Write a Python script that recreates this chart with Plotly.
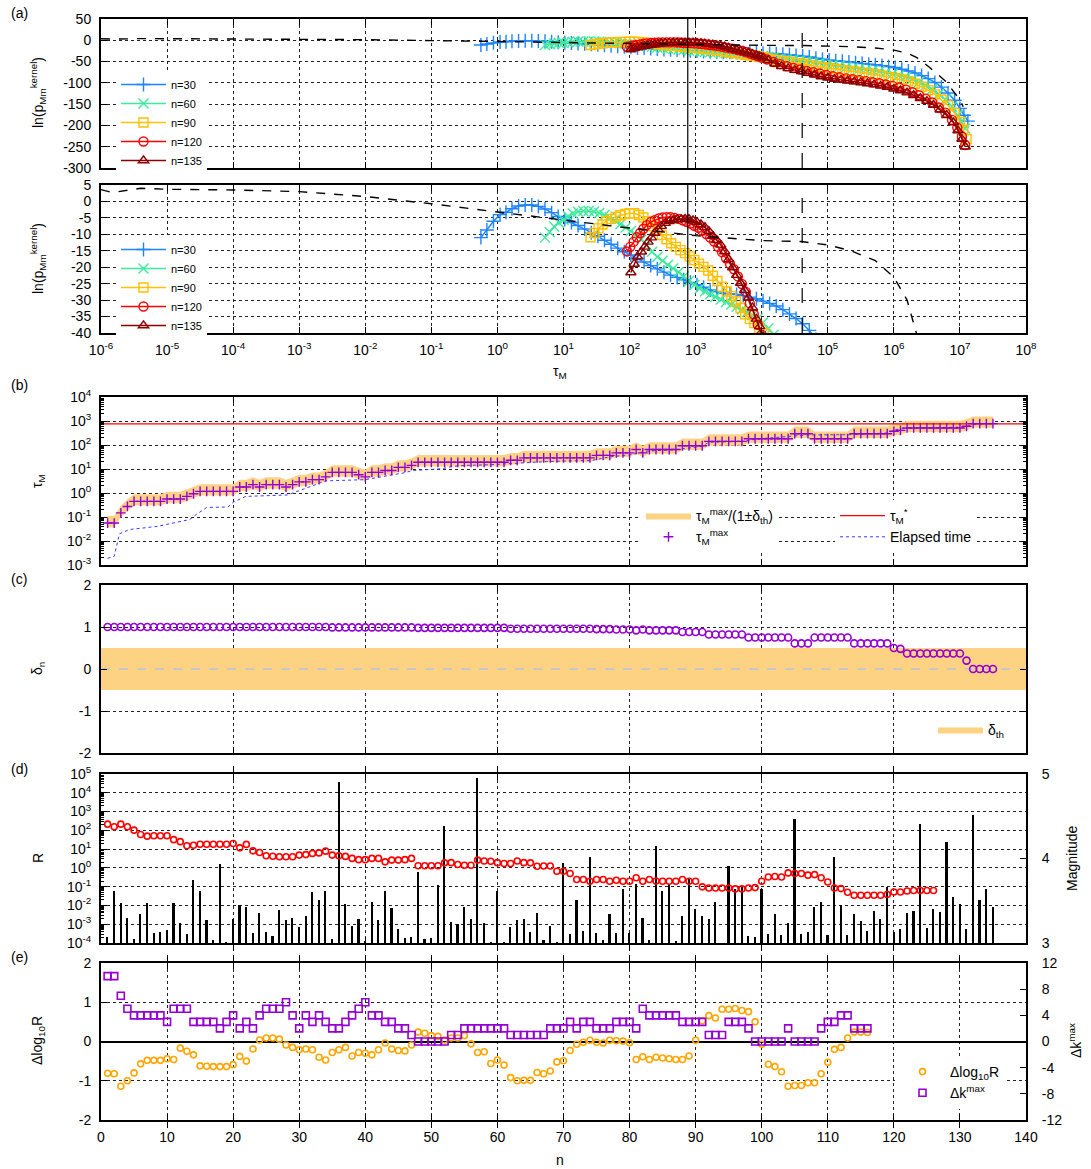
import numpy as np
import plotly.graph_objects as go

W, H = 1091, 1169
FONT = "Liberation Sans, Arial, Helvetica, sans-serif"

# ====================== (a) ln(p_Mm^kernel) vs tau_M ======================
# (log10 tau_M, ln p) pairs
curve_n30 = [(-0.25, -11.0), (-0.16, -8.7), (-0.06, -6.0), (0.04, -4.0), (0.13, -3.3), (0.22, -2.2),
             (0.32, -1.4), (0.42, -1.1), (0.52, -1.1), (0.62, -1.5), (0.72, -2.3), (0.82, -3.4),
             (0.92, -4.6), (1.02, -5.5), (1.12, -6.4), (1.22, -7.3), (1.32, -8.4), (1.42, -9.5),
             (1.52, -10.6), (1.62, -11.8), (1.72, -13.0), (1.82, -14.2), (1.92, -15.3), (2.02, -16.3),
             (2.12, -17.3), (2.22, -18.4), (2.32, -19.5), (2.42, -20.5), (2.52, -21.5), (2.62, -22.4),
             (2.72, -23.1), (2.82, -23.8), (2.92, -24.6), (3.02, -25.3), (3.12, -26.1), (3.22, -26.9),
             (3.32, -27.5), (3.42, -27.9), (3.52, -28.1), (3.62, -28.3), (3.72, -28.6), (3.82, -29.1),
             (3.92, -29.6), (4.02, -30.3), (4.12, -31.0), (4.22, -31.8), (4.32, -32.9), (4.42, -34.2),
             (4.52, -35.6), (4.62, -37.2), (4.72, -39.2), (4.82, -42), (4.92, -44.5), (5.02, -46.5),
             (5.12, -48), (5.22, -49.5), (5.32, -51), (5.42, -52.5), (5.52, -54.5), (5.62, -56),
             (5.72, -57.5), (5.82, -59.5), (5.92, -61.5), (6.02, -64), (6.12, -68), (6.22, -72),
             (6.32, -77), (6.42, -83), (6.52, -90), (6.62, -99), (6.72, -110), (6.82, -124),
             (6.92, -141), (7.0, -160), (7.06, -176), (7.12, -190)]
curve_n60 = [(0.72, -11.0), (0.79, -9.3), (0.86, -7.6), (0.93, -6.5), (1.0, -5.6), (1.07, -4.6),
             (1.14, -3.7), (1.22, -3.1), (1.30, -2.9), (1.38, -2.9), (1.46, -3.1), (1.54, -3.5),
             (1.62, -4.1), (1.70, -4.8), (1.78, -5.8), (1.86, -6.9), (1.94, -7.9), (2.02, -9.0),
             (2.10, -10.2), (2.18, -11.6), (2.26, -13.3), (2.34, -15.3), (2.42, -16.9), (2.50, -18.0),
             (2.58, -19.3), (2.66, -20.4), (2.74, -21.5), (2.82, -22.8), (2.90, -24.2), (2.98, -25.4),
             (3.06, -26.5), (3.14, -27.4), (3.22, -28.2), (3.30, -29.0), (3.38, -29.8), (3.46, -30.6),
             (3.54, -31.3), (3.62, -32.0), (3.70, -32.8), (3.78, -33.6), (3.86, -34.6), (3.94, -35.5),
             (4.02, -36.8), (4.10, -38.6), (4.18, -40.5), (4.28, -42.5), (4.38, -44.5), (4.48, -46),
             (4.58, -47.5), (4.68, -49.5), (4.78, -51.5), (4.88, -53.5), (4.98, -56), (5.08, -58),
             (5.18, -60), (5.28, -62.5), (5.38, -65), (5.48, -67), (5.58, -69), (5.68, -71),
             (5.78, -73), (5.88, -76), (5.98, -79), (6.08, -82.5), (6.18, -86), (6.28, -91),
             (6.38, -98), (6.48, -106), (6.58, -115), (6.68, -126), (6.78, -139), (6.88, -156),
             (6.96, -176), (7.02, -192), (7.08, -207)]
curve_n90 = [(1.41, -10.9), (1.47, -9.6), (1.53, -8.2), (1.59, -7.0), (1.65, -6.0), (1.72, -5.3),
             (1.79, -4.7), (1.86, -4.2), (1.93, -3.8), (2.0, -3.6), (2.07, -3.6), (2.14, -4.1),
             (2.21, -4.9), (2.28, -6.0), (2.35, -7.5), (2.42, -8.9), (2.49, -10.2), (2.56, -11.5),
             (2.63, -12.7), (2.70, -13.8), (2.77, -14.8), (2.84, -15.7), (2.91, -16.7), (2.98, -17.8),
             (3.05, -18.9), (3.12, -19.9), (3.19, -21.0), (3.26, -22.6), (3.33, -24.2), (3.40, -25.9),
             (3.47, -27.4), (3.54, -28.8), (3.61, -30.4), (3.68, -32.4), (3.75, -34.3), (3.82, -35.7),
             (3.89, -37.0), (3.96, -38.5), (4.03, -40), (4.12, -43), (4.22, -46), (4.32, -49),
             (4.42, -51), (4.52, -53), (4.62, -55), (4.72, -58), (4.82, -61), (4.92, -63),
             (5.02, -65), (5.12, -67.5), (5.22, -70), (5.32, -72), (5.42, -74), (5.52, -76),
             (5.62, -78), (5.72, -80), (5.82, -83), (5.92, -86), (6.02, -89), (6.12, -92),
             (6.22, -96), (6.32, -102), (6.42, -109), (6.52, -117), (6.62, -127), (6.72, -139),
             (6.82, -153), (6.92, -171), (7.0, -192), (7.05, -210), (7.1, -232)]
curve_n120 = [(1.96, -15.2), (2.01, -13.8), (2.06, -12.3), (2.11, -10.9), (2.16, -9.6), (2.21, -8.3),
              (2.26, -7.2), (2.32, -6.3), (2.38, -5.7), (2.44, -5.2), (2.50, -4.9), (2.56, -4.8),
              (2.62, -4.8), (2.68, -5.0), (2.74, -5.3), (2.80, -5.7), (2.86, -6.2), (2.92, -6.7),
              (2.98, -7.4), (3.04, -8.0), (3.10, -8.9), (3.16, -9.9), (3.22, -11.0), (3.28, -12.2),
              (3.34, -13.8), (3.40, -15.4), (3.46, -17.3), (3.52, -19.0), (3.58, -20.6), (3.64, -22.8),
              (3.70, -25.1), (3.76, -27.5), (3.82, -31.0), (3.88, -34.3), (3.94, -37.5), (4.0, -40.5),
              (4.08, -45), (4.18, -51), (4.28, -56), (4.38, -61), (4.48, -65), (4.58, -68.5),
              (4.68, -72), (4.78, -75), (4.88, -78), (4.98, -81.5), (5.08, -84.5), (5.18, -87),
              (5.28, -89.5), (5.38, -91.5), (5.48, -93.5), (5.58, -96), (5.68, -98.5), (5.78, -101),
              (5.88, -104), (5.98, -107), (6.08, -111), (6.18, -116), (6.28, -122), (6.38, -129),
              (6.48, -137), (6.58, -146), (6.68, -158), (6.78, -170), (6.88, -187), (6.96, -205),
              (7.03, -226), (7.08, -246)]
curve_n135 = [(2.02, -21.6), (2.07, -19.0), (2.12, -16.8), (2.18, -15.3), (2.23, -13.8), (2.28, -12.3),
              (2.33, -11.0), (2.38, -9.6), (2.43, -8.5), (2.48, -7.5), (2.54, -6.6), (2.60, -6.0),
              (2.66, -5.7), (2.72, -5.5), (2.78, -5.4), (2.84, -5.3), (2.90, -5.4), (2.96, -5.8),
              (3.02, -6.3), (3.08, -7.0), (3.14, -7.8), (3.20, -9.0), (3.26, -10.5), (3.32, -11.8),
              (3.38, -13.2), (3.44, -15.2), (3.50, -17.6), (3.56, -20.1), (3.62, -22.4), (3.68, -24.8),
              (3.74, -27.0), (3.80, -29.3), (3.86, -32.3), (3.92, -35.7), (3.97, -38.0), (4.02, -41),
              (4.1, -47), (4.2, -55), (4.3, -61), (4.4, -66), (4.5, -70), (4.6, -73),
              (4.7, -77), (4.8, -81), (4.9, -85), (5.0, -88), (5.1, -91), (5.2, -93),
              (5.3, -95), (5.4, -97), (5.5, -99), (5.6, -101.5), (5.7, -104), (5.8, -107),
              (5.9, -110), (6.0, -114), (6.1, -118), (6.2, -123), (6.3, -129), (6.4, -136),
              (6.5, -143), (6.6, -152), (6.7, -163), (6.8, -176), (6.9, -193), (6.97, -212),
              (7.03, -232), (7.08, -250)]
curve_dashed = [(-6.0, 3.6), (-5.83, 2.7), (-5.4, 4.0), (-5.0, 3.7), (-4.0, 3.5), (-3.0, 3.0),
                (-2.0, 1.5), (-1.0, -0.7), (0.0, -3.2), (1.0, -5.7), (2.0, -8.1), (3.0, -10.4),
                (4.0, -11.9), (4.6, -12.2), (5.0, -13.2), (5.35, -15), (5.72, -18), (6.0, -23),
                (6.2, -30), (6.34, -40), (6.52, -61), (6.79, -97), (7.0, -140), (7.05, -156)]

a_names = ["n=30", "n=60", "n=90", "n=120", "n=135"]
a_curves = [curve_n30, curve_n60, curve_n90, curve_n120, curve_n135]
a_colors = ["#1f85ff", "#3deb9c", "#ffc000", "#ff0000", "#8b0000"]
a_symbols = ["cross-thin", "x-thin", "square-open", "circle-open", "triangle-up-open"]
a_sizes = [10, 10, 9, 9, 9]

tau_star = 760.0       # tau_M^*
tau_dashed = 4.1e4     # dashed vertical marker

a_xtick_vals = [1e-6, 1e-5, 1e-4, 1e-3, 1e-2, 1e-1, 1e0, 1e1, 1e2, 1e3, 1e4, 1e5, 1e6, 1e7, 1e8]
a_xtick_text = ["10<sup>-6</sup>", "10<sup>-5</sup>", "10<sup>-4</sup>", "10<sup>-3</sup>", "10<sup>-2</sup>",
                "10<sup>-1</sup>", "10<sup>0</sup>", "10<sup>1</sup>", "10<sup>2</sup>", "10<sup>3</sup>",
                "10<sup>4</sup>", "10<sup>5</sup>", "10<sup>6</sup>", "10<sup>7</sup>", "10<sup>8</sup>"]
a1_ytick_vals = [50, 0, -50, -100, -150, -200, -250, -300]
a1_ytick_text = ["50", "0", "-50", "-100", "-150", "-200", "-250", "-300"]
a2_ytick_vals = [5, 0, -5, -10, -15, -20, -25, -30, -35, -40]
a2_ytick_text = ["5", "0", "-5", "-10", "-15", "-20", "-25", "-30", "-35", "-40"]

# ====================== (b) tau_M^max per event n ======================
n_events = list(range(1, 136))
tau_max = ([0.056, 0.056, 0.148, 0.275] + [0.447] * 5 + [0.56] * 3 + [0.72, 0.93] + [1.17] * 6 +
           [1.78] * 2 + [2.24, 1.78] + [2.24] * 3 + [1.78, 2.24] + [2.9] * 2 + [3.6] * 2 + [4.7] +
           [7.2] * 4 + [5.8, 4.7] + [7.2] * 2 + [8.7] * 2 + [11.7] * 2 + [14.1] + [19] * 14 +
           [23] * 2 + [29] * 11 + [37] * 3 + [47] * 3 + [65, 47] + [65] * 5 + [93] * 4 + [141] * 6 +
           [182] * 7 + [295] * 3 + [182] * 6 + [295] * 6 + [372, 407] + [513] * 9 + [603] + [776] * 4)
delta_th = 0.5
elapsed_n = [1, 2, 2.8, 4.3, 8.6, 11.8, 13.4, 14.4, 16, 19.2, 20, 21.9, 28.2, 30.4, 32.5, 34, 40, 43.1,
             45.7, 47.3, 51.6, 53.2, 55.3, 59, 63, 67.5, 74.4, 77, 80.3, 82.4, 87.2, 90.9, 92, 97, 99.7,
             104.7, 106.9, 113.2, 119.1, 120.2, 122.3, 130.8, 131.9, 135]
elapsed_time = [0.0019, 0.0023, 0.020, 0.030, 0.041, 0.060, 0.078, 0.126, 0.25, 0.26, 0.41, 0.72, 0.83,
                1.38, 2.24, 3.2, 3.6, 4.9, 6.8, 8.7, 10.2, 12.9, 14.1, 15.1, 17.8, 20.4, 23, 32, 40, 55,
                65, 87, 129, 141, 182, 229, 263, 269, 316, 437, 513, 562, 708, 776]
b_ytick_vals = [1e-3, 1e-2, 1e-1, 1e0, 1e1, 1e2, 1e3, 1e4]
b_ytick_text = ["10<sup>-3</sup>", "10<sup>-2</sup>", "10<sup>-1</sup>", "10<sup>0</sup>",
                "10<sup>1</sup>", "10<sup>2</sup>", "10<sup>3</sup>", "10<sup>4</sup>"]

# ====================== (c) delta_n ======================
delta_n = ([1.0] * 34 + [0.99] * 13 + [0.98] * 14 + [0.96] * 13 + [0.95] * 3 + [0.94] * 3 + [0.92, 0.94] +
           [0.92] * 5 + [0.88] * 4 + [0.82] * 6 + [0.75] * 7 + [0.61] * 3 + [0.75] * 6 + [0.61] * 6 +
           [0.5, 0.48] + [0.37] * 9 + [0.2] + [0.0] * 4)
c_ytick_vals = [2, 1, 0, -1, -2]
c_ytick_text = ["2", "1", "0", "-1", "-2"]

# ====================== (d) R and magnitude ======================
R_values = [214, 155, 214, 155, 102, 60, 49, 51, 51, 51,
            32, 25, 15, 16, 18, 18, 18, 18, 18, 20,
            11.7, 17.8, 8.1, 6.6, 4.4, 4.2, 3.9, 3.9, 3.9, 4.8,
            5.1, 5.9, 6.3, 7.8, 4.8, 4.4, 4.1, 3.2, 2.75, 2.75,
            3.2, 3.2, 2.1, 2.6, 2.6, 2.75, 3.2, 1.29, 1.29, 1.29,
            1.29, 1.86, 1.9, 1.51, 1.38, 1.38, 2.6, 2.34, 2.24, 1.9,
            1.7, 1.7, 2.34, 1.9, 1.86, 1.23, 1.26, 1.26, 0.66, 0.66,
            0.5, 0.24, 0.24, 0.195, 0.24, 0.24, 0.195, 0.22, 0.195, 0.195,
            0.30, 0.195, 0.24, 0.20, 0.195, 0.195, 0.195, 0.24, 0.195, 0.195,
            0.098, 0.085, 0.085, 0.085, 0.085, 0.076, 0.076, 0.085, 0.089, 0.195,
            0.33, 0.35, 0.33, 0.54, 0.5, 0.5, 0.41, 0.44, 0.30, 0.178,
            0.085, 0.079, 0.05, 0.035, 0.035, 0.035, 0.035, 0.035, 0.038, 0.052,
            0.052, 0.059, 0.062, 0.062, 0.062, 0.062]
magnitude = [3.07, 3.61, 3.47, 3.30, 3.05, 3.34, 3.47, 3.12, 3.13, 3.15,
             3.47, 3.24, 3.11, 3.74, 3.62, 3.27, 3.04, 3.93, 3.01, 3.28,
             3.45, 3.43, 3.12, 3.36, 3.13, 3.08, 3.39, 3.27, 3.30, 3.19,
             3.32, 3.60, 3.51, 3.62, 3.05, 4.90, 3.46, 3.20, 3.28, 3.02,
             3.49, 3.27, 3.61, 3.42, 3.16, 3.06, 3.07, 3.84, 3.05, 3.06,
             3.69, 4.38, 3.25, 3.23, 3.43, 3.29, 4.95, 3.24, 3.01, 3.62,
             3.01, 3.19, 3.27, 3.28, 3.13, 3.36, 3.03, 3.20, 3.01, 3.95,
             3.11, 3.51, 3.14, 4.02, 3.12, 3.03, 3.34, 3.12, 3.64, 3.12,
             3.70, 3.30, 3.04, 4.15, 3.62, 3.70, 3.02, 3.32, 3.76, 3.40,
             3.32, 3.28, 3.49, 3.00, 3.91, 3.64, 3.67, 3.08, 3.07, 3.64,
             3.11, 3.34, 3.09, 3.24, 4.47, 3.11, 3.13, 3.43, 3.48, 3.09,
             4.02, 3.45, 3.10, 3.34, 3.26, 3.14, 3.38, 3.28, 3.66, 3.13,
             3.17, 3.35, 3.38, 4.41, 3.18, 3.40, 3.37, 4.19, 3.55, 3.46,
             3.17, 4.52, 3.51, 3.64, 3.43]
d_ytick_vals = [1e-4, 1e-3, 1e-2, 1e-1, 1e0, 1e1, 1e2, 1e3, 1e4, 1e5]
d_ytick_text = ["10<sup>-4</sup>", "10<sup>-3</sup>", "10<sup>-2</sup>", "10<sup>-1</sup>", "10<sup>0</sup>",
                "10<sup>1</sup>", "10<sup>2</sup>", "10<sup>3</sup>", "10<sup>4</sup>", "10<sup>5</sup>"]

# ====================== (e) delta log10 R and delta k^max ======================
dlog10R = [-0.81, -0.82, -1.14, -1.0, -0.8, -0.57, -0.48, -0.48, -0.48, -0.44,
           -0.46, -0.17, -0.25, -0.34, -0.62, -0.63, -0.64, -0.64, -0.64, -0.59,
           -0.38, -0.5, -0.19, 0.04, 0.09, 0.09, 0.06, -0.09, -0.15, -0.21,
           -0.19, -0.21, -0.4, -0.47, -0.28, -0.21, -0.15, -0.37, -0.28, -0.3,
           -0.34, -0.21, -0.04, -0.19, -0.23, -0.24, -0.09, 0.24, 0.21, 0.15,
           0.13, 0.04, 0.09, 0.09, 0.15, -0.06, -0.28, -0.26, -0.56, -0.47,
           -0.6, -0.92, -1.0, -0.99, -0.99, -0.79, -0.82, -0.75, -0.52, -0.49,
           -0.23, -0.07, -0.02, 0.03, -0.02, -0.04, 0.03, 0.02, 0.01, -0.03,
           -0.46, -0.39, -0.46, -0.4, -0.42, -0.44, -0.46, -0.46, -0.37, 0.03,
           0.53, 0.66, 0.6, 0.82, 0.82, 0.84, 0.79, 0.76, 0.5, -0.07,
           -0.58, -0.64, -0.77, -1.14, -1.12, -1.12, -1.05, -1.05, -0.82, -0.53,
           -0.2, -0.15, 0.09, 0.24, 0.24, 0.23]
dk_max = [10, 10, 7, 5, 4, 4, 4, 4, 4, 3,
          5, 5, 5, 3, 3, 3, 3, 2, 3, 4,
          2, 3, 2, 4, 5, 5, 5, 6, 4, 2,
          4, 3, 4, 3, 2, 2, 3, 4, 5, 6,
          4, 4, 3, 3, 2, 2, 1, 0, 0, 0,
          0, 0, 1, 1, 2, 2, 2, 2, 2, 2,
          2, 1, 1, 1, 1, 1, 1, 2, 2, 2,
          3, 2, 3, 3, 2, 2, 2, 3, 3, 3,
          2, 5, 4, 4, 4, 4, 4, 3, 3, 3,
          3, 1, 1, 1, 3, 3, 3, 2, 0, 0,
          0, 0, 0, 2, 0, 0, 0, 0, 2, 3,
          3, 4, 4, 2, 2, 2]
e_ytick_vals = [2, 1, 0, -1, -2]
e_ytick_text = ["2", "1", "0", "-1", "-2"]
e_y2tick_vals = [12, 8, 4, 0, -4, -8, -12]
e_y2tick_text = ["12", "8", "4", "0", "-4", "-8", "-12"]

# ====================== styling helpers ======================
PURPLE = "#9400d3"
BAND = "#fdd283"


def ydom(top, bottom):
    return [1 - bottom / H, 1 - top / H]


XDOM = [101 / W, 1026 / W]
TICKFONT = dict(family=FONT, size=14, color="black")

base = dict(showline=True, linecolor="black", linewidth=2, ticks="inside", ticklen=6, tickwidth=1,
            tickcolor="black", showgrid=True, gridcolor="#222222", gridwidth=1, griddash="dot",
            zeroline=False, tickfont=TICKFONT)
left_y = dict(base, ticklabelstandoff=5)
right_y = dict(base, ticklabelstandoff=11)

fig = go.Figure()

# ---------- (a) traces ----------
for name, curve, col, sym, sz in zip(a_names, a_curves, a_colors, a_symbols, a_sizes):
    lt = np.array([p[0] for p in curve])
    lp = [p[1] for p in curve]
    tau = np.power(10.0, lt)
    mk = dict(symbol=sym, size=sz, color=col, line=dict(color=col, width=1.4))
    fig.add_trace(go.Scatter(x=tau, y=lp, mode="lines+markers", name=name, line=dict(color=col, width=1.5),
                             marker=mk, xaxis="x", yaxis="y", legend="legend"))
    fig.add_trace(go.Scatter(x=tau, y=lp, mode="lines+markers", name=name, line=dict(color=col, width=1.5),
                             marker=mk, xaxis="x2", yaxis="y2", legend="legend2"))

dash_tau = np.power(10.0, np.array([p[0] for p in curve_dashed]))
dash_lnp = [p[1] for p in curve_dashed]
for xa, ya, yr in (("x", "y", [-300, 50]), ("x2", "y2", [-40, 5])):
    fig.add_trace(go.Scatter(x=dash_tau, y=dash_lnp, mode="lines", showlegend=False,
                             line=dict(color="black", width=1.4, dash="dash"), xaxis=xa, yaxis=ya))
    fig.add_trace(go.Scatter(x=[tau_star, tau_star], y=yr, mode="lines", showlegend=False,
                             line=dict(color="black", width=1.2), xaxis=xa, yaxis=ya))
    fig.add_trace(go.Scatter(x=[tau_dashed, tau_dashed], y=yr, mode="lines", showlegend=False,
                             line=dict(color="black", width=1.2, dash="longdash"), xaxis=xa, yaxis=ya))

# ---------- (b) traces ----------
band_lo = [t / (1 + delta_th) for t in tau_max]
band_hi = [t / (1 - delta_th) for t in tau_max]
fig.add_trace(go.Scatter(x=n_events, y=band_lo, mode="lines", line=dict(width=0, color=BAND),
                         showlegend=False, xaxis="x3", yaxis="y3"))
fig.add_trace(go.Scatter(x=n_events, y=band_hi, mode="lines", line=dict(width=0, color=BAND),
                         fill="tonexty", fillcolor=BAND, name="τ<sub>M</sub><sup>max</sup>/(1±δ<sub>th</sub>)",
                         legend="legend3", legendrank=1, xaxis="x3", yaxis="y3"))
fig.add_trace(go.Scatter(x=elapsed_n, y=elapsed_time, mode="lines", name="Elapsed time",
                         line=dict(color="#3a3aff", width=1, dash="dot"), legend="legend4", legendrank=2,
                         xaxis="x3", yaxis="y3"))
fig.add_trace(go.Scatter(x=[0, 140], y=[tau_star, tau_star], mode="lines", name="τ<sub>M</sub><sup>*</sup>",
                         line=dict(color="red", width=1.2), legend="legend4", legendrank=1,
                         xaxis="x3", yaxis="y3"))
fig.add_trace(go.Scatter(x=n_events, y=tau_max, mode="markers", name="τ<sub>M</sub><sup>max</sup>",
                         marker=dict(symbol="cross-thin", size=7, color=PURPLE, line=dict(color=PURPLE, width=1.4)),
                         legend="legend3", legendrank=2, xaxis="x3", yaxis="y3"))

# ---------- (c) traces ----------
fig.add_trace(go.Scatter(x=[0, 140], y=[-delta_th, -delta_th], mode="lines", line=dict(width=0, color=BAND),
                         showlegend=False, xaxis="x4", yaxis="y4"))
fig.add_trace(go.Scatter(x=[0, 140], y=[delta_th, delta_th], mode="lines", line=dict(width=0, color=BAND),
                         fill="tonexty", fillcolor=BAND, name="δ<sub>th</sub>", legend="legend5",
                         xaxis="x4", yaxis="y4"))
fig.add_trace(go.Scatter(x=[0, 140], y=[0, 0], mode="lines", showlegend=False,
                         line=dict(color="#c8c8c8", width=2, dash="dash"), xaxis="x4", yaxis="y4"))
fig.add_trace(go.Scatter(x=n_events, y=delta_n, mode="markers", showlegend=False,
                         marker=dict(symbol="circle-open", size=7, color=PURPLE, line=dict(color=PURPLE, width=1.6)),
                         xaxis="x4", yaxis="y4"))

# ---------- (d) traces ----------
fig.add_trace(go.Bar(x=n_events, y=magnitude, width=0.25, marker=dict(color="black", line=dict(width=0)),
                     showlegend=False, xaxis="x5", yaxis="y5"))
fig.add_trace(go.Scatter(x=n_events[:len(R_values)], y=R_values, mode="markers", showlegend=False,
                         marker=dict(symbol="circle-open", size=6, color="red", line=dict(color="red", width=1.6)),
                         xaxis="x5", yaxis="y6"))

# ---------- (e) traces ----------
fig.add_trace(go.Scatter(x=n_events[:len(dlog10R)], y=dlog10R, mode="markers", name="Δlog<sub>10</sub>R",
                         marker=dict(symbol="circle-open", size=6, color="#ffa500", line=dict(color="#ffa500", width=1.6)),
                         legend="legend6", legendrank=1, xaxis="x6", yaxis="y7"))
fig.add_trace(go.Scatter(x=n_events[:len(dk_max)], y=dk_max, mode="markers", name="Δk<sup>max</sup>",
                         marker=dict(symbol="square-open", size=7, color=PURPLE, line=dict(color=PURPLE, width=1.6)),
                         legend="legend6", legendrank=2, xaxis="x6", yaxis="y8"))

# ====================== layout ======================
lay = dict(width=W, height=H, margin=dict(l=0, r=0, t=0, b=0, pad=0, autoexpand=False),
           paper_bgcolor="white", plot_bgcolor="white",
           font=dict(family=FONT, size=14, color="black"), bargap=0, barmode="overlay")

# (a1)
lay["xaxis"] = dict(base, type="log", range=[-6, 8], domain=XDOM, anchor="y", mirror="allticks",
                    tickmode="array", tickvals=a_xtick_vals, showticklabels=False)
lay["yaxis"] = dict(left_y, range=[-300, 50], domain=ydom(19, 168), anchor="x", mirror="allticks",
                    tickmode="array", tickvals=a1_ytick_vals, ticktext=a1_ytick_text)
# (a2)
lay["xaxis2"] = dict(base, type="log", range=[-6, 8], domain=XDOM, anchor="y2", mirror="allticks",
                     tickmode="array", tickvals=a_xtick_vals, ticktext=a_xtick_text, ticklabelstandoff=3)
lay["yaxis2"] = dict(left_y, range=[-40, 5], domain=ydom(185, 333), anchor="x2", mirror="allticks",
                     tickmode="array", tickvals=a2_ytick_vals, ticktext=a2_ytick_text)
# (b)
lay["xaxis3"] = dict(base, range=[0, 140], domain=XDOM, anchor="y3", mirror="allticks", dtick=20,
                     showticklabels=False)
lay["yaxis3"] = dict(left_y, type="log", range=[-3, 4], domain=ydom(397, 565), anchor="x3", mirror="allticks",
                     tickmode="array", tickvals=b_ytick_vals, ticktext=b_ytick_text,
                     minor=dict(ticks="inside", ticklen=3, tickcolor="black", dtick="D1", showgrid=False))
# (c)
lay["xaxis4"] = dict(base, range=[0, 140], domain=XDOM, anchor="y4", mirror="allticks", dtick=20,
                     showticklabels=False)
lay["yaxis4"] = dict(left_y, range=[-2, 2], domain=ydom(585, 753), anchor="x4", mirror="allticks",
                     tickmode="array", tickvals=c_ytick_vals, ticktext=c_ytick_text)
# (d)
lay["xaxis5"] = dict(base, range=[0, 140], domain=XDOM, anchor="y5", mirror="allticks", dtick=20,
                     showticklabels=False)
lay["yaxis5"] = dict(right_y, range=[3, 5], domain=ydom(774, 943), anchor="x5", side="right", showgrid=False,
                     tickmode="array", tickvals=[3, 4, 5], ticktext=["3", "4", "5"], mirror=False)
lay["yaxis6"] = dict(left_y, type="log", range=[-4, 5], overlaying="y5", side="left", anchor="x5", mirror=True,
                     tickmode="array", tickvals=d_ytick_vals, ticktext=d_ytick_text,
                     minor=dict(ticks="inside", ticklen=3, tickcolor="black", dtick="D1", showgrid=False))
# (e)
lay["xaxis6"] = dict(base, range=[0, 140], domain=XDOM, anchor="y7", mirror="allticks", dtick=10,
                     ticklabelstandoff=3)
lay["yaxis7"] = dict(left_y, range=[-2, 2], domain=ydom(963, 1120), anchor="x6", mirror=True,
                     tickmode="array", tickvals=e_ytick_vals, ticktext=e_ytick_text,
                     zeroline=True, zerolinecolor="black", zerolinewidth=1.5)
lay["yaxis8"] = dict(right_y, range=[-12, 12], overlaying="y7", side="right", anchor="x6", showgrid=False,
                     tickmode="array", tickvals=e_y2tick_vals, ticktext=e_y2tick_text, mirror=False)

leg = dict(bgcolor="white", borderwidth=0, font=dict(family=FONT, size=14, color="black"),
           xanchor="left", yanchor="top", itemwidth=45, tracegroupgap=0, traceorder="normal")
leg_small = dict(leg, font=dict(family=FONT, size=11, color="black"))
lay["legend"] = dict(leg_small, x=116 / W, y=1 - 70 / H)
lay["legend2"] = dict(leg_small, x=116 / W, y=1 - 235 / H)
lay["legend3"] = dict(leg, x=641 / W, y=1 - 500 / H)
lay["legend4"] = dict(leg, x=835 / W, y=1 - 500 / H)
lay["legend5"] = dict(leg, x=933 / W, y=1 - 714 / H)
lay["legend6"] = dict(leg, x=895 / W, y=1 - 1056 / H)

anns = []


def ann(text, px, py, angle=0, size=14):
    anns.append(dict(text=text, x=px / W, y=1 - py / H, xref="paper", yref="paper", showarrow=False,
                     xanchor="center", yanchor="middle", textangle=angle,
                     font=dict(family=FONT, size=size, color="black")))


ann("(a)", 19, 13)
ann("(b)", 19, 385)
ann("(c)", 19, 579)
ann("(d)", 19, 769)
ann("(e)", 19, 957)
ann("ln(p<sub>Mm</sub><sup>kernel</sup>)", 38, 93, -90)
ann("ln(p<sub>Mm</sub><sup>kernel</sup>)", 38, 259, -90)
ann("τ<sub>M</sub>", 560, 372)
ann("τ<sub>M</sub>", 38, 481, -90)
ann("δ<sub>n</sub>", 38, 669, -90)
ann("R", 38, 858, -90)
ann("Magnitude", 1072, 858, -90)
ann("Δlog<sub>10</sub>R", 38, 1041, -90)
ann("Δk<sup>max</sup>", 1075, 1041, -90)
ann("n", 560, 1160)
lay["annotations"] = anns

fig.update_layout(**lay)
fig.write_html("out.html")
